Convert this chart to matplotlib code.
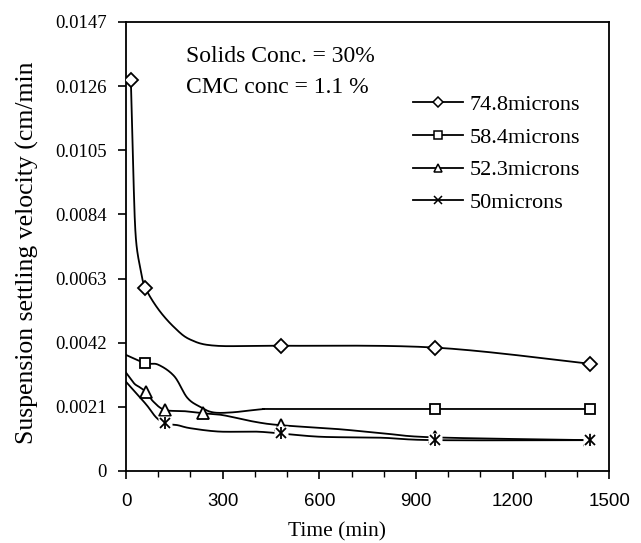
import numpy as np
import matplotlib
matplotlib.use("Agg")
import matplotlib.pyplot as plt
from matplotlib.ticker import MultipleLocator, FixedLocator

# ---------------------------
# Data (time in min, velocity in cm/min)
# ---------------------------
t_748 = [15, 22, 30, 45, 60, 100, 150, 200, 280, 480, 960, 1440]
v_748 = [0.0128, 0.0100, 0.0077, 0.0066, 0.0060, 0.0053, 0.0047, 0.0043,
         0.0041, 0.0041, 0.00404, 0.00351]
mk_748 = [0, 4, 9, 10, 11]

t_584 = [0, 60, 100, 150, 190, 230, 270, 330, 420, 480, 960, 1440]
v_584 = [0.0038, 0.00353, 0.00348, 0.0031, 0.0024, 0.0021, 0.00192, 0.00192,
         0.00202, 0.00203, 0.00203, 0.00203]
mk_584 = [1, 10, 11]

t_523 = [0, 25, 40, 61, 85, 120, 180, 240, 300, 400, 480, 660, 800, 960, 1440]
v_523 = [0.00322, 0.00287, 0.00276, 0.0026, 0.00227, 0.0020, 0.00196, 0.00189,
         0.00183, 0.00161, 0.0015, 0.00137, 0.00123, 0.0011, 0.00101]
mk_523 = [3, 5, 7, 10, 13, 14]

t_50 = [0, 23, 64, 93, 120, 160, 200, 290, 400, 480, 605, 790, 960, 1440]
v_50 = [0.00292, 0.00265, 0.00216, 0.00176, 0.00156, 0.0015, 0.0014, 0.00129,
        0.00129, 0.00123, 0.00112, 0.00109, 0.00101, 0.00101]
mk_50 = [4, 9, 12, 13]

labels = ["74.8microns", "58.4microns", "52.3microns", "50microns"]
y_ticks = [0, 0.0021, 0.0042, 0.0063, 0.0084, 0.0105, 0.0126, 0.0147]
y_ticklabels = ["0", "0.0021", "0.0042", "0.0063", "0.0084", "0.0105", "0.0126", "0.0147"]

SERIF = "Liberation Serif"
SANS = "Liberation Sans"


def smooth(t, v, n=20):
    # Excel-like smoothed line: cubic Bezier segments with 1/6 tangents
    p = np.column_stack([t, v]).astype(float)
    ext = np.vstack([p[0], p, p[-1]])
    s = np.linspace(0, 1, n)[:, None]
    out = []
    for i in range(1, len(ext) - 2):
        p0, p1, p2, p3 = ext[i - 1], ext[i], ext[i + 1], ext[i + 2]
        c1 = p1 + (p2 - p0) / 6.0
        c2 = p2 - (p3 - p1) / 6.0
        seg = ((1 - s) ** 3) * p1 + 3 * ((1 - s) ** 2) * s * c1 \
            + 3 * (1 - s) * s ** 2 * c2 + s ** 3 * p2
        out.append(seg if i == 1 else seg[1:])
    out = np.vstack(out)
    return out[:, 0], out[:, 1]


fig = plt.figure(figsize=(6.41, 5.43), dpi=100)
ax = fig.add_axes([0.1966, 0.1326, 0.7538, 0.8269])

lw = 1.3
mew = 1.3

series = [
    (t_748, v_748, mk_748, "D", 7.0),
    (t_584, v_584, mk_584, "s", 7.5),
    (t_523, v_523, mk_523, "^", 8.5),
]
for (t, v, mk, m, ms) in series:
    xs, ys = smooth(t, v)
    ax.plot(xs, ys, color="black", lw=lw, zorder=2)
    ax.plot(np.array(t)[mk], np.array(v)[mk], ls="none", marker=m, ms=ms,
            mfc="white", mec="black", mew=mew, zorder=3)

# 50 microns: line, white patch behind the asterisk, then the asterisk
xs, ys = smooth(t_50, v_50)
ax.plot(xs, ys, color="black", lw=lw, zorder=2)
tx = np.array(t_50)[mk_50]
vy = np.array(v_50)[mk_50]
ax.plot(tx, vy, ls="none", marker="s", ms=10, mfc="white", mec="none", zorder=4)
ax.plot(tx, vy, ls="none", marker="x", ms=7.5, mec="black", mew=mew, zorder=5)
ax.plot(tx, vy, ls="none", marker="|", ms=9, mec="black", mew=mew, zorder=5)

ax.set_xlim(0, 1500)
ax.set_ylim(0, 0.0147)
ax.xaxis.set_major_locator(MultipleLocator(300))
ax.xaxis.set_minor_locator(MultipleLocator(100))
ax.yaxis.set_major_locator(FixedLocator(y_ticks))
ax.set_yticklabels(y_ticklabels)
ax.tick_params(axis="both", which="major", direction="out", length=6, width=1.2)
ax.tick_params(axis="x", which="minor", direction="out", length=4, width=1.0)
ax.tick_params(axis="y", pad=8, labelsize=13.5, labelfontfamily=SERIF)
ax.tick_params(axis="x", pad=10, labelsize=13.5, labelfontfamily=SANS)
for sp in ax.spines.values():
    sp.set_linewidth(1.3)

ax.set_xlabel("Time (min)", fontfamily=SERIF, fontsize=15.5, va="center")
ax.xaxis.set_label_coords(0.437, -0.136)
ax.set_ylabel("Suspension settling velocity (cm/min", fontfamily=SERIF,
              fontsize=18.5, va="center")
ax.yaxis.set_label_coords(-0.204, 0.486)

ax.text(0.1247, 0.924, "Solids Conc. = 30%", transform=ax.transAxes,
        fontfamily=SERIF, fontsize=17, va="center")
ax.text(0.1247, 0.855, "CMC conc = 1.1 %", transform=ax.transAxes,
        fontfamily=SERIF, fontsize=17, va="center")

# Legend
handles = [
    plt.Line2D([], [], color="black", lw=lw, marker="D", ms=5, mfc="white", mec="black", mew=1.1),
    plt.Line2D([], [], color="black", lw=lw, marker="s", ms=5.5, mfc="white", mec="black", mew=1.1),
    plt.Line2D([], [], color="black", lw=lw, marker="^", ms=6, mfc="white", mec="black", mew=1.1),
    plt.Line2D([], [], color="black", lw=lw, marker="x", ms=5.5, mec="black", mew=1.1),
]
leg = ax.legend(handles, labels, loc="upper left", bbox_to_anchor=(0.5946, 0.839),
                frameon=False, handlelength=2.25, handletextpad=0.27,
                labelspacing=0.55, borderaxespad=0, borderpad=0,
                prop={"family": SERIF, "size": 16})

fig.savefig("out.png", dpi=100)
